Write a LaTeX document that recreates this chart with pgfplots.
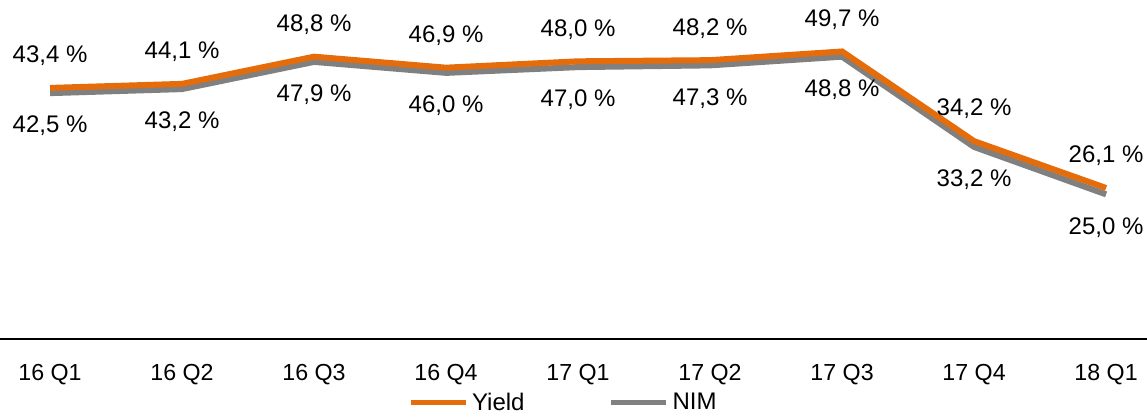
\documentclass[border=0pt]{standalone}
\usepackage{pgfplots}
\pgfplotsset{compat=1.18}
\usepackage{fontspec}
\setmainfont{Liberation Sans}

\definecolor{yieldorange}{RGB}{228,108,10}
\definecolor{nimgray}{RGB}{128,128,128}

\pgfplotstableread{
q yield nim
0 43.4 42.5
1 44.1 43.2
2 48.8 47.9
3 46.9 46.0
4 48.0 47.0
5 48.2 47.3
6 49.7 48.8
7 34.2 33.2
8 26.1 25.0
}\ratios

\begin{document}
\begin{tikzpicture}
\path[use as bounding box] (0,-39pt) rectangle (573.5pt,169.5pt);
\begin{axis}[
  scale only axis,
  width=573.5pt, height=169.5pt,
  at={(0,0)}, anchor=south west,
  xmin=-0.379, xmax=8.31,
  ymin=0, ymax=58.6,
  axis x line*=bottom,
  axis y line=none,
  axis line style={-, black, line width=0.9pt},
  xtick={0,...,8},
  xticklabels={16 Q1,16 Q2,16 Q3,16 Q4,17 Q1,17 Q2,17 Q3,17 Q4,18 Q1},
  major tick length=0pt,
  xticklabel style={font=\fontsize{11.6}{13}\selectfont, anchor=center, yshift=-18pt},
  clip=false,
  point meta=y,
  /pgf/number format/.cd, fixed, fixed zerofill, precision=1, use comma, assume math mode=true,
  /pgfplots/.cd,
  nodes near coords={\pgfmathprintnumber{\pgfplotspointmeta}~\%},
  every node near coord/.append style={font=\fontsize{12}{14}\selectfont, anchor=center, text=black},
  legend style={at={(0.492,0)}, anchor=center, yshift=-32pt, draw=none, fill=none,
    font=\fontsize{12}{14}\selectfont, legend columns=2,
    /tikz/every even column/.append style={column sep=40pt},
    inner sep=0pt},
  legend cell align=left,
  reverse legend,
]
\addplot[nimgray, line width=3pt, mark=none,
  every node near coord/.append style={yshift=-16.5pt},
  legend image code/.code={\draw[nimgray, line width=2.5pt] (0pt,0pt) -- (27.5pt,0pt);}]
  table[x=q, y=nim] {\ratios};
\addplot[yieldorange, line width=3pt, mark=none,
  every node near coord/.append style={yshift=16pt},
  legend image code/.code={\draw[yieldorange, line width=2.5pt] (0pt,0pt) -- (27.5pt,0pt);}]
  table[x=q, y=yield] {\ratios};
\legend{NIM,Yield}
\end{axis}
\end{tikzpicture}
\end{document}
